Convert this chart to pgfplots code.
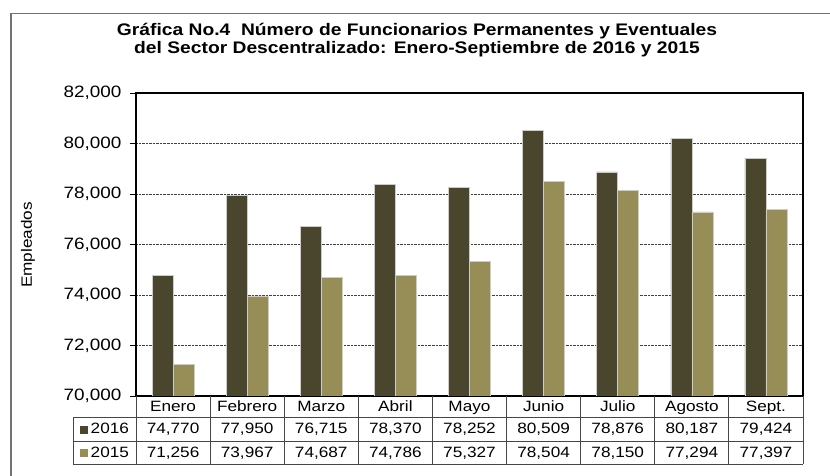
\documentclass[border=0pt]{standalone}
\usepackage{pgfplots}
\pgfplotsset{compat=1.18}
\usepackage{pgfplotstable}
\usepackage{fontspec}
\setmainfont[FakeStretch=1.15]{Liberation Sans}

\definecolor{c16}{RGB}{74,69,45}
\definecolor{c15}{RGB}{151,141,86}
\definecolor{tline}{RGB}{70,70,70}

\pgfplotstableread{
x label a b
0 Enero 74770 71256
1 Febrero 77950 73967
2 Marzo 76715 74687
3 Abril 78370 74786
4 Mayo 78252 75327
5 Junio 80509 78504
6 Julio 78876 78150
7 Agosto 80187 77294
8 Sept. 79424 77397
}\data

\begin{document}
\begin{tikzpicture}[x=1bp,y=1bp]
\useasboundingbox (0,0) rectangle (830,476);
% outer frame
\draw[black!55, line width=1.2bp] (11,-5) -- (11,462.5) -- (840,462.5);
% title
\node[align=center, font=\bfseries\fontsize{16.8}{18.5}\selectfont] at (417,436)
  {Gráfica No.4\ \ Número de Funcionarios Permanentes y Eventuales\\del Sector Descentralizado: Enero-Septiembre de 2016 y 2015};
% y label
\node[rotate=90, font=\fontsize{15}{17}\selectfont] at (28,231) {Empleados};

\begin{axis}[
  at={(136bp,80bp)}, anchor=south west,
  scale only axis, width=667bp, height=303bp,
  xmin=-0.5, xmax=8.5, ymin=70000, ymax=82000,
  ytick={70000,72000,...,82000},
  scaled y ticks=false,
  tick label style={font=\fontsize{16.5}{18}\selectfont},
  yticklabel style={xshift=-5bp, /pgf/number format/.cd, 1000 sep={,}, assume math mode=true},
  xtick=\empty,
  ytick pos=left, tick align=outside,
  major tick length=6bp,
  ymajorgrids, grid style={black!75, densely dotted, line width=0.8bp},
  axis line style={line width=1.6bp},
  tick style={black, line width=0.8bp},
  ybar=0pt, bar width=21bp,
]
\addplot[fill=c16, draw=black!20, line width=0.6bp, bar shift=-10.5bp] table[x=x,y=a] {\data};
\addplot[fill=c15, draw=black!20, line width=0.6bp, bar shift=10.5bp] table[x=x,y=b] {\data};
\end{axis}

% data table
\draw[tline, line width=0.9bp] (73,58.7) -- (803,58.7);
\draw[tline, line width=0.9bp] (73,35) -- (803,35);
\draw[tline, line width=0.9bp] (73,12) -- (803,12);
\draw[tline, line width=0.9bp] (73,58.7) -- (73,12);
\foreach \k in {0,...,9} {
  \draw[tline, line width=0.9bp] ({136+\k*74.111},80) -- ({136+\k*74.111},12);
}
\fill[c16] (80,42) rectangle (87.5,49.5);
\fill[c15] (80,19.3) rectangle (87.5,26.8);
\node[anchor=base west, inner sep=0pt, font=\fontsize{15}{16}\selectfont] at (90.5,42) {2016};
\node[anchor=base west, inner sep=0pt, font=\fontsize{15}{16}\selectfont] at (90.5,18.3) {2015};
\foreach \i in {0,...,8} {
  \pgfplotstablegetelem{\i}{label}\of\data \let\lab\pgfplotsretval
  \pgfplotstablegetelem{\i}{a}\of\data \let\va\pgfplotsretval
  \pgfplotstablegetelem{\i}{b}\of\data \let\vb\pgfplotsretval
  \node[anchor=base, inner sep=0pt, font=\fontsize{15}{16}\selectfont] at ({136+(\i+0.5)*74.111},64.3) {\lab};
  \node[anchor=base, inner sep=0pt, font=\fontsize{15}{16}\selectfont] at ({136+(\i+0.5)*74.111},42) {\pgfmathprintnumber[1000 sep={,}, assume math mode=true]{\va}};
  \node[anchor=base, inner sep=0pt, font=\fontsize{15}{16}\selectfont] at ({136+(\i+0.5)*74.111},18.3) {\pgfmathprintnumber[1000 sep={,}, assume math mode=true]{\vb}};
}
\end{tikzpicture}
\end{document}
